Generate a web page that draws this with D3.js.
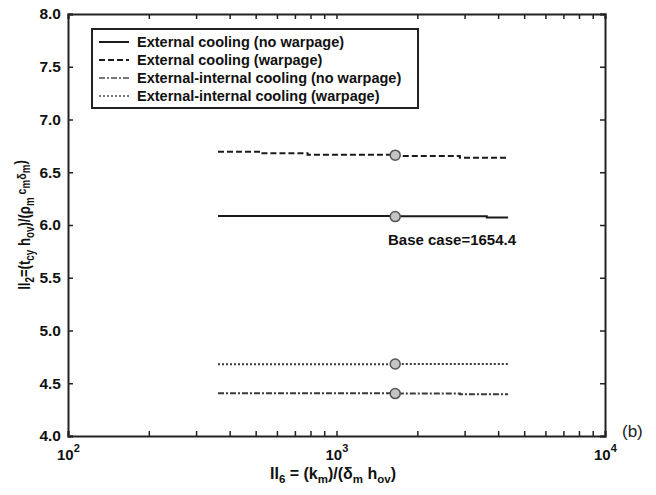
<!DOCTYPE html>
<html>
<head>
<meta charset="utf-8">
<script src="https://cdn.jsdelivr.net/npm/d3@7"></script>
<style>
  body { margin: 0; background: #fff; }
  text { font-family: "Liberation Sans", Arial, sans-serif; font-weight: bold; fill: #111; }
</style>
</head>
<body>
<svg width="656" height="495"></svg>
<script>
// data
var seriesNames = [
  "External cooling (no warpage)",
  "External cooling (warpage)",
  "External-internal cooling (no warpage)",
  "External-internal cooling (warpage)"
];
var extNoWarpX = [362, 1654.4, 3630, 4355],
    extNoWarpY = [6.085, 6.083, 6.072, 6.072];
var extWarpX = [362, 520, 780, 1654.4, 2880, 4355],
    extWarpY = [6.695, 6.68, 6.666, 6.655, 6.638, 6.638];
var extIntNoWarpX = [362, 1654.4, 2880, 4355],
    extIntNoWarpY = [4.405, 4.403, 4.395, 4.395];
var extIntWarpX = [362, 1654.4, 4355],
    extIntWarpY = [4.68, 4.682, 4.685];
var baseCase = 1654.4;
var baseValues = [6.08, 6.662, 4.402, 4.682];
var yTicks = [4.0, 4.5, 5.0, 5.5, 6.0, 6.5, 7.0, 7.5, 8.0];
var xMajor = [100, 1000, 10000];
var xMajorExp = ["2", "3", "4"];

var svg = d3.select("svg"),
    margin = {top: 14, right: 51, bottom: 59, left: 68},
    width = +svg.attr("width"),
    height = +svg.attr("height");

var x = d3.scaleLog()
    .domain([100, 10000])
    .range([margin.left, width - margin.right]);

var y = d3.scaleLinear()
    .domain([4, 8])
    .range([height - margin.bottom, margin.top]);

var styles = [
  {color: "#1a1a1a", dash: null},
  {color: "#1a1a1a", dash: "6,3"},
  {color: "#3a3a3a", dash: "6,2,2,2"},
  {color: "#3a3a3a", dash: "2,2"}
];

var xMinor = [];
[100, 1000].forEach(function(b) {
  for (var k = 2; k <= 9; k++) xMinor.push(b * k);
});

// frame axes, ticks inside
var fmtNone = function() { return ""; };
svg.append("g")
    .attr("transform", "translate(0," + y(4) + ")")
    .call(d3.axisBottom(x).tickValues(xMinor.concat(xMajor)).tickSize(-5).tickFormat(fmtNone));
svg.append("g")
    .attr("transform", "translate(0," + y(8) + ")")
    .call(d3.axisTop(x).tickValues(xMinor.concat(xMajor)).tickSize(-5).tickFormat(fmtNone));
svg.append("g")
    .attr("class", "yaxis")
    .attr("transform", "translate(" + x(100) + ",0)")
    .call(d3.axisLeft(y).tickValues(yTicks).tickSize(-5).tickPadding(7).tickFormat(d3.format(".1f")));
svg.append("g")
    .attr("transform", "translate(" + x(10000) + ",0)")
    .call(d3.axisRight(y).tickValues(yTicks).tickSize(-5).tickFormat(fmtNone));

svg.selectAll(".domain").attr("stroke", "#222").attr("stroke-width", 2);
svg.selectAll(".tick line").attr("stroke", "#222").attr("stroke-width", 1.5);
svg.selectAll(".yaxis text")
    .attr("font-family", "Liberation Sans, Arial, sans-serif")
    .attr("font-size", 15.5).attr("font-weight", "bold").attr("fill", "#111");

// x tick labels 10^n
var xl = svg.append("g").selectAll("text")
    .data(xMajor)
  .enter().append("text")
    .attr("x", function(d) { return x(d) - 11; })
    .attr("y", 460)
    .attr("font-size", 15);
xl.append("tspan").text("10");
xl.append("tspan").attr("dy", -8).attr("font-size", 11)
    .text(function(d, i) { return xMajorExp[i]; });

// lines
var line = d3.line()
    .curve(d3.curveStepAfter)
    .x(function(d) { return x(d[0]); })
    .y(function(d) { return y(d[1]); });

var series = [
  d3.zip(extNoWarpX, extNoWarpY),
  d3.zip(extWarpX, extWarpY),
  d3.zip(extIntNoWarpX, extIntNoWarpY),
  d3.zip(extIntWarpX, extIntWarpY)
];

svg.append("g").selectAll("path")
    .data(series)
  .enter().append("path")
    .attr("fill", "none")
    .attr("stroke", function(d, i) { return styles[i].color; })
    .attr("stroke-width", 2)
    .attr("stroke-dasharray", function(d, i) { return styles[i].dash; })
    .attr("d", line);

svg.append("g").selectAll("circle")
    .data(baseValues)
  .enter().append("circle")
    .attr("cx", x(baseCase))
    .attr("cy", function(d) { return y(d); })
    .attr("r", 5)
    .attr("fill", "#c4c4c4")
    .attr("stroke", "#555")
    .attr("stroke-width", 1.5);

svg.append("text")
    .attr("x", 388)
    .attr("y", 245)
    .attr("font-size", 15)
    .text("Base case=" + baseCase);

// legend
var lg = svg.append("g");
lg.append("rect")
    .attr("x", 92).attr("y", 29)
    .attr("width", 326).attr("height", 79)
    .attr("fill", "#fff").attr("stroke", "#222").attr("stroke-width", 2);
var item = lg.selectAll("g.item")
    .data(seriesNames)
  .enter().append("g")
    .attr("class", "item")
    .attr("transform", function(d, i) { return "translate(0," + (42 + i * 18) + ")"; });
item.append("line")
    .attr("x1", 99).attr("x2", 129)
    .attr("stroke", function(d, i) { return i < 2 ? styles[i].color : "#777"; })
    .attr("stroke-width", 2)
    .attr("stroke-dasharray", function(d, i) { return styles[i].dash; });
item.append("text")
    .attr("x", 137).attr("dy", "0.36em")
    .attr("font-size", 14.5)
    .text(function(d) { return d; });

// axis titles
var xt = svg.append("text")
    .attr("x", 333).attr("y", 479)
    .attr("text-anchor", "middle")
    .attr("font-size", 16);
xt.append("tspan").text("II");
xt.append("tspan").attr("dy", 4).attr("font-size", 11.5).text("6");
xt.append("tspan").attr("dy", -4).text(" = (k");
xt.append("tspan").attr("dy", 4).attr("font-size", 11.5).text("m");
xt.append("tspan").attr("dy", -4).text(")/(δ");
xt.append("tspan").attr("dy", 4).attr("font-size", 11.5).text("m");
xt.append("tspan").attr("dy", -4).text(" h");
xt.append("tspan").attr("dy", 4).attr("font-size", 11.5).text("ov");
xt.append("tspan").attr("dy", -4).text(")");

var yt = svg.append("text")
    .attr("transform", "translate(30,225) rotate(-90) scale(0.82,1)")
    .attr("text-anchor", "middle")
    .attr("font-size", 16);
yt.append("tspan").text("II");
yt.append("tspan").attr("dy", 4).attr("font-size", 12).text("2");
yt.append("tspan").attr("dy", -4).text("=(t");
yt.append("tspan").attr("dy", 4).attr("font-size", 12).text("cy");
yt.append("tspan").attr("dy", -4).text(" h");
yt.append("tspan").attr("dy", 4).attr("font-size", 12).text("ov");
yt.append("tspan").attr("dy", -4).text(")/(ρ");
yt.append("tspan").attr("dy", 4).attr("font-size", 12).text("m");
yt.append("tspan").attr("dy", -8).attr("font-size", 13).text(" c");
yt.append("tspan").attr("dy", 4).attr("font-size", 12).text("m");
yt.append("tspan").attr("dy", -4).attr("font-size", 13).text("δ");
yt.append("tspan").attr("dy", 4).attr("font-size", 12).text("m");
yt.append("tspan").attr("dy", -4).text(")");

svg.append("text")
    .attr("x", 622).attr("y", 437)
    .attr("font-size", 17)
    .style("font-weight", "normal")
    .style("fill", "#222")
    .text("(b)");
</script>
</body>
</html>
